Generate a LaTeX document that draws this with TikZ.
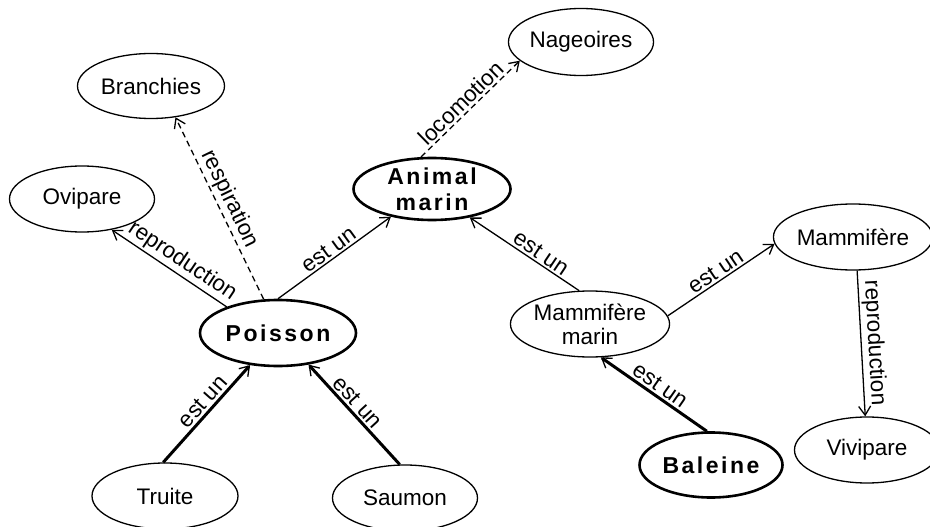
\documentclass[tikz,border=0pt]{standalone}
\usepackage{fontspec}
\setmainfont{Liberation Sans}
\newfontfamily\widefont[LetterSpace=11]{Liberation Sans}
\usetikzlibrary{arrows.meta,shapes.geometric}

\begin{document}
\begin{tikzpicture}[x=1pt,y=-1pt,
  concept/.style={ellipse, draw, line width=1.3pt, inner sep=0pt,
    minimum width=145pt, minimum height=66pt, align=center,
    font=\fontsize{22.5}{24}\selectfont},
  key/.style={concept, line width=2.6pt,
    font=\fontsize{23}{26}\selectfont\widefont\bfseries},
  rel/.style={line width=1.3pt,
    -{Straight Barb[length=9pt,width=12pt,line width=1.3pt]}},
  strong/.style={rel, line width=3pt},
  link/.style={rel, dash pattern=on 6pt off 4pt},
  lbl/.style={pos=#1, above, sloped, inner sep=2pt,
    font=\fontsize{22.5}{24}\selectfont},
  lbl/.default=0.5
]
\useasboundingbox (0,0) rectangle (930,527);

% concepts
\node[concept, minimum width=147pt, minimum height=65pt] (branchies) at (151,86) {Branchies};
\node[concept] (ovipare) at (82,199) {Ovipare};
\node[concept, minimum width=143pt, minimum height=67pt] (nageoires) at (581,42) {Nageoires};
\node[key, minimum width=157pt, minimum height=62pt] (animal) at (432,189) {Animal\\marin};
\node[concept] (mammifere) at (853,237) {Mammifère};
\node[key, minimum width=156pt] (poisson) at (278,333) {Poisson};
\node[concept] (mmarin) at (590,324) {Mammifère\\marin};
\node[key, minimum width=143pt, minimum height=65pt] (baleine) at (711,465) {Baleine};
\node[concept] (vivipare) at (867,450) {Vivipare};
\node[concept, minimum width=146pt] (truite) at (165,496) {Truite};
\node[concept] (saumon) at (405,498) {Saumon};

% relations
\draw[rel] (poisson.90) -- node[lbl]{est un} (animal.214);
\draw[rel] (poisson.153) -- node[lbl=0.45]{reproduction} (ovipare.-46);
\draw[link] (poisson.113) -- node[lbl=0.52]{respiration} (branchies.-52);
\draw[link] (animal.109) -- node[lbl=0.48]{locomotion} (nageoires.197);
\draw[rel] (mmarin.108) -- node[lbl=0.4]{est un} (animal.-37);
\draw[rel] (mmarin.6) -- node[lbl]{est un} (mammifere.185);
\draw[rel] (mammifere.-83) -- node[lbl]{reproduction} (vivipare.93);
\draw[strong] (truite.93) -- node[lbl=0.55]{est un} (poisson.229);
\draw[strong] (saumon.99) -- node[lbl=0.55]{est un} (poisson.-46);
\draw[strong] (baleine.97) -- node[lbl]{est un} (mmarin.-72);
\end{tikzpicture}
\end{document}
